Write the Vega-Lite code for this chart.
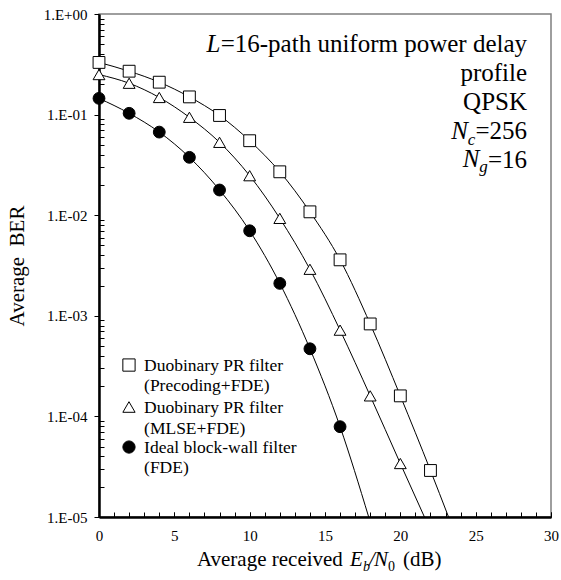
{
  "$schema": "https://vega.github.io/schema/vega-lite/v6.json",
  "width": 452,
  "height": 503,
  "autosize": {"type": "none"},
  "padding": {"left": 99, "top": 14, "right": 10, "bottom": 63},
  "background": "white",
  "config": {
    "view": {"stroke": "#7f7f7f", "strokeWidth": 1.5},
    "font": "Liberation Serif",
    "text": {"font": "Liberation Serif", "color": "black"}
  },
  "resolve": {"axis": {"x": "independent"}},
  "data": {
    "values": [
      {"series": "sq", "snr": 0, "ber": 0.33, "measured": true},
      {"series": "sq", "snr": 2, "ber": 0.27, "measured": true},
      {"series": "sq", "snr": 4, "ber": 0.21, "measured": true},
      {"series": "sq", "snr": 6, "ber": 0.15, "measured": true},
      {"series": "sq", "snr": 8, "ber": 0.098, "measured": true},
      {"series": "sq", "snr": 10, "ber": 0.055, "measured": true},
      {"series": "sq", "snr": 12, "ber": 0.027, "measured": true},
      {"series": "sq", "snr": 14, "ber": 0.0108, "measured": true},
      {"series": "sq", "snr": 16, "ber": 0.0036, "measured": true},
      {"series": "sq", "snr": 18, "ber": 0.00083, "measured": true},
      {"series": "sq", "snr": 20, "ber": 0.00016, "measured": true},
      {"series": "sq", "snr": 22, "ber": 0.000029, "measured": true},
      {"series": "sq", "snr": 23.2, "ber": 0.00001, "measured": false},
      {"series": "tri", "snr": 0, "ber": 0.25, "measured": true},
      {"series": "tri", "snr": 2, "ber": 0.205, "measured": true},
      {"series": "tri", "snr": 4, "ber": 0.148, "measured": true},
      {"series": "tri", "snr": 6, "ber": 0.094, "measured": true},
      {"series": "tri", "snr": 8, "ber": 0.053, "measured": true},
      {"series": "tri", "snr": 10, "ber": 0.0247, "measured": true},
      {"series": "tri", "snr": 12, "ber": 0.0093, "measured": true},
      {"series": "tri", "snr": 14, "ber": 0.0029, "measured": true},
      {"series": "tri", "snr": 16, "ber": 0.00072, "measured": true},
      {"series": "tri", "snr": 18, "ber": 0.00016, "measured": true},
      {"series": "tri", "snr": 20, "ber": 0.000034, "measured": true},
      {"series": "tri", "snr": 21.6, "ber": 0.00001, "measured": false},
      {"series": "circ", "snr": 0, "ber": 0.145, "measured": true},
      {"series": "circ", "snr": 2, "ber": 0.103, "measured": true},
      {"series": "circ", "snr": 4, "ber": 0.067, "measured": true},
      {"series": "circ", "snr": 6, "ber": 0.0376, "measured": true},
      {"series": "circ", "snr": 8, "ber": 0.0178, "measured": true},
      {"series": "circ", "snr": 10, "ber": 0.007, "measured": true},
      {"series": "circ", "snr": 12, "ber": 0.0021, "measured": true},
      {"series": "circ", "snr": 14, "ber": 0.00047, "measured": true},
      {"series": "circ", "snr": 16, "ber": 0.000079, "measured": true},
      {"series": "circ", "snr": 17.9, "ber": 0.00001, "measured": false}
    ]
  },
  "layer": [
    {
      "mark": {"type": "line", "interpolate": "monotone", "color": "black", "strokeWidth": 1},
      "encoding": {
        "x": {
          "field": "snr", "type": "quantitative",
          "scale": {"domain": [0, 30], "nice": false},
          "axis": {
            "orient": "bottom",
            "values": [0, 5, 10, 15, 20, 25, 30],
            "tickSize": -5, "tickColor": "black", "tickWidth": 1,
            "domainColor": "black", "domainWidth": 2.5,
            "labelFont": "Liberation Serif", "labelFontSize": 15, "labelColor": "black",
            "labelPadding": 16, "labelFlush": false, "labelOverlap": false,
            "grid": false, "title": null
          }
        },
        "y": {
          "field": "ber", "type": "quantitative",
          "scale": {"type": "log", "domain": [0.00001, 1], "nice": false},
          "axis": {
            "values": [1,0.9,0.8,0.7,0.6,0.5,0.4,0.3,0.2,0.1,0.09,0.08,0.07,0.06,0.05,0.04,0.03,0.02,0.01,0.009,0.008,0.007,0.006,0.005,0.004,0.003,0.002,0.001,0.0009,0.0008,0.0007,0.0006,0.0005,0.0004,0.0003,0.0002,0.0001,0.00009,0.00008,0.00007,0.00006,0.00005,0.00004,0.00003,0.00002,0.00001],
            "labelExpr": "abs(log(datum.value)/LN10 - round(log(datum.value)/LN10)) < 0.001 ? (datum.value > 0.5 ? '1.E+00' : '1.E-0' + round(-log(datum.value)/LN10)) : ''",
            "tickSize": {"condition": {"test": "abs(log(datum.value)/LN10 - round(log(datum.value)/LN10)) < 0.001", "value": 5}, "value": -5},
            "tickColor": "black", "tickWidth": 1,
            "domainColor": "black", "domainWidth": 2.5,
            "labelFont": "Liberation Serif", "labelFontSize": 15, "labelColor": "black",
            "labelPadding": 7, "labelFlush": false, "labelOverlap": false,
            "grid": false,
            "title": "Average\u00a0 BER",
            "titleFont": "Liberation Serif", "titleFontSize": 21, "titleFontWeight": "normal",
            "titleColor": "black", "titlePadding": 16
          }
        },
        "detail": {"field": "series"}
      }
    },
    {
      "transform": [{"filter": "datum.measured"}],
      "mark": {"type": "point", "filled": true, "stroke": "black", "strokeWidth": 1, "opacity": 1, "size": 140},
      "encoding": {
        "x": {
          "field": "snr", "type": "quantitative",
          "axis": {
            "orient": "bottom",
            "values": [0,1,2,3,4,5,6,7,8,9,10,11,12,13,14,15,16,17,18,19,20,21,22,23,24,25,26,27,28,29,30],
            "labels": false, "domain": false, "grid": false, "title": null,
            "tickSize": -5, "tickColor": "black", "tickWidth": 1
          }
        },
        "y": {"field": "ber", "type": "quantitative"},
        "shape": {"field": "series", "type": "nominal", "scale": {"domain": ["sq", "tri", "circ"], "range": ["square", "triangle-up", "circle"]}, "legend": null},
        "fill": {"field": "series", "type": "nominal", "scale": {"domain": ["sq", "tri", "circ"], "range": ["white", "white", "black"]}, "legend": null}
      }
    },
    {
      "data": {"values": [{}]},
      "mark": {"type": "point", "shape": "square", "filled": true, "fill": "white", "stroke": "black", "strokeWidth": 1, "opacity": 1, "size": 150},
      "encoding": {"x": {"datum": 1.99, "type": "quantitative", "axis": null}, "y": {"datum": 0.000324, "type": "quantitative"}}
    },
    {
      "data": {"values": [{}]},
      "mark": {"type": "point", "shape": "triangle-up", "filled": true, "fill": "white", "stroke": "black", "strokeWidth": 1, "opacity": 1, "size": 150},
      "encoding": {"x": {"datum": 1.99, "type": "quantitative", "axis": null}, "y": {"datum": 0.000124, "type": "quantitative"}}
    },
    {
      "data": {"values": [{}]},
      "mark": {"type": "point", "shape": "circle", "filled": true, "fill": "black", "stroke": "black", "strokeWidth": 1, "opacity": 1, "size": 150},
      "encoding": {"x": {"datum": 1.99, "type": "quantitative", "axis": null}, "y": {"datum": 0.0000496, "type": "quantitative"}}
    },
    {
      "data": {"values": [{}]},
      "mark": {"type": "text", "align": "left", "baseline": "alphabetic", "fontSize": 17.5, "lineHeight": 20.5},
      "encoding": {"x": {"datum": 2.99, "type": "quantitative", "axis": null}, "y": {"datum": 0.000285, "type": "quantitative"}, "text": {"value": ["Duobinary PR filter", "(Precoding+FDE)"]}}
    },
    {
      "data": {"values": [{}]},
      "mark": {"type": "text", "align": "left", "baseline": "alphabetic", "fontSize": 17.5, "lineHeight": 20.5},
      "encoding": {"x": {"datum": 2.99, "type": "quantitative", "axis": null}, "y": {"datum": 0.000108, "type": "quantitative"}, "text": {"value": ["Duobinary PR filter", "(MLSE+FDE)"]}}
    },
    {
      "data": {"values": [{}]},
      "mark": {"type": "text", "align": "left", "baseline": "alphabetic", "fontSize": 17.5, "lineHeight": 20.5},
      "encoding": {"x": {"datum": 2.99, "type": "quantitative", "axis": null}, "y": {"datum": 0.0000433, "type": "quantitative"}, "text": {"value": ["Ideal block-wall filter", "(FDE)"]}}
    },
    {
      "data": {"values": [{}]},
      "mark": {"type": "text", "align": "right", "baseline": "alphabetic", "fontSize": 25, "lineHeight": 29},
      "encoding": {"x": {"datum": 28.41, "type": "quantitative", "axis": null}, "y": {"datum": 0.419, "type": "quantitative"}, "text": {"value": ["=16-path uniform power delay", "profile", "QPSK", "=256", "=16"]}}
    },
    {
      "data": {"values": [{}]},
      "mark": {"type": "text", "align": "right", "baseline": "alphabetic", "fontSize": 25, "fontStyle": "italic"},
      "encoding": {"x": {"datum": 8.05, "type": "quantitative", "axis": null}, "y": {"datum": 0.419, "type": "quantitative"}, "text": {"value": "L"}}
    },
    {
      "data": {"values": [{}]},
      "mark": {"type": "text", "align": "right", "baseline": "alphabetic", "fontSize": 25, "fontStyle": "italic"},
      "encoding": {"x": {"datum": 24.49, "type": "quantitative", "axis": null}, "y": {"datum": 0.0572, "type": "quantitative"}, "text": {"value": "N"}}
    },
    {
      "data": {"values": [{}]},
      "mark": {"type": "text", "align": "right", "baseline": "alphabetic", "fontSize": 17, "fontStyle": "italic"},
      "encoding": {"x": {"datum": 24.98, "type": "quantitative", "axis": null}, "y": {"datum": 0.0499, "type": "quantitative"}, "text": {"value": "c"}}
    },
    {
      "data": {"values": [{}]},
      "mark": {"type": "text", "align": "right", "baseline": "alphabetic", "fontSize": 25, "fontStyle": "italic"},
      "encoding": {"x": {"datum": 25.25, "type": "quantitative", "axis": null}, "y": {"datum": 0.0301, "type": "quantitative"}, "text": {"value": "N"}}
    },
    {
      "data": {"values": [{}]},
      "mark": {"type": "text", "align": "right", "baseline": "alphabetic", "fontSize": 17, "fontStyle": "italic"},
      "encoding": {"x": {"datum": 25.81, "type": "quantitative", "axis": null}, "y": {"datum": 0.0269, "type": "quantitative"}, "text": {"value": "g"}}
    },
    {
      "data": {"values": [{}]},
      "mark": {"type": "text", "align": "left", "baseline": "alphabetic", "fontSize": 21},
      "encoding": {"x": {"datum": 6.5, "type": "quantitative", "axis": null}, "y": {"datum": 0.00000326, "type": "quantitative"}, "text": {"value": "Average received"}}
    },
    {
      "data": {"values": [{}]},
      "mark": {"type": "text", "align": "left", "baseline": "alphabetic", "fontSize": 21, "fontStyle": "italic"},
      "encoding": {"x": {"datum": 16.66, "type": "quantitative", "axis": null}, "y": {"datum": 0.00000326, "type": "quantitative"}, "text": {"value": "E"}}
    },
    {
      "data": {"values": [{}]},
      "mark": {"type": "text", "align": "left", "baseline": "alphabetic", "fontSize": 14, "fontStyle": "italic"},
      "encoding": {"x": {"datum": 17.52, "type": "quantitative", "axis": null}, "y": {"datum": 0.0000029, "type": "quantitative"}, "text": {"value": "b"}}
    },
    {
      "data": {"values": [{}]},
      "mark": {"type": "text", "align": "left", "baseline": "alphabetic", "fontSize": 21, "fontStyle": "italic"},
      "encoding": {"x": {"datum": 17.92, "type": "quantitative", "axis": null}, "y": {"datum": 0.00000326, "type": "quantitative"}, "text": {"value": "/"}}
    },
    {
      "data": {"values": [{}]},
      "mark": {"type": "text", "align": "left", "baseline": "alphabetic", "fontSize": 21, "fontStyle": "italic"},
      "encoding": {"x": {"datum": 18.25, "type": "quantitative", "axis": null}, "y": {"datum": 0.00000326, "type": "quantitative"}, "text": {"value": "N"}}
    },
    {
      "data": {"values": [{}]},
      "mark": {"type": "text", "align": "left", "baseline": "alphabetic", "fontSize": 14},
      "encoding": {"x": {"datum": 19.18, "type": "quantitative", "axis": null}, "y": {"datum": 0.0000029, "type": "quantitative"}, "text": {"value": "0"}}
    },
    {
      "data": {"values": [{}]},
      "mark": {"type": "text", "align": "left", "baseline": "alphabetic", "fontSize": 21},
      "encoding": {"x": {"datum": 20.18, "type": "quantitative", "axis": null}, "y": {"datum": 0.00000326, "type": "quantitative"}, "text": {"value": "(dB)"}}
    }
  ]
}
